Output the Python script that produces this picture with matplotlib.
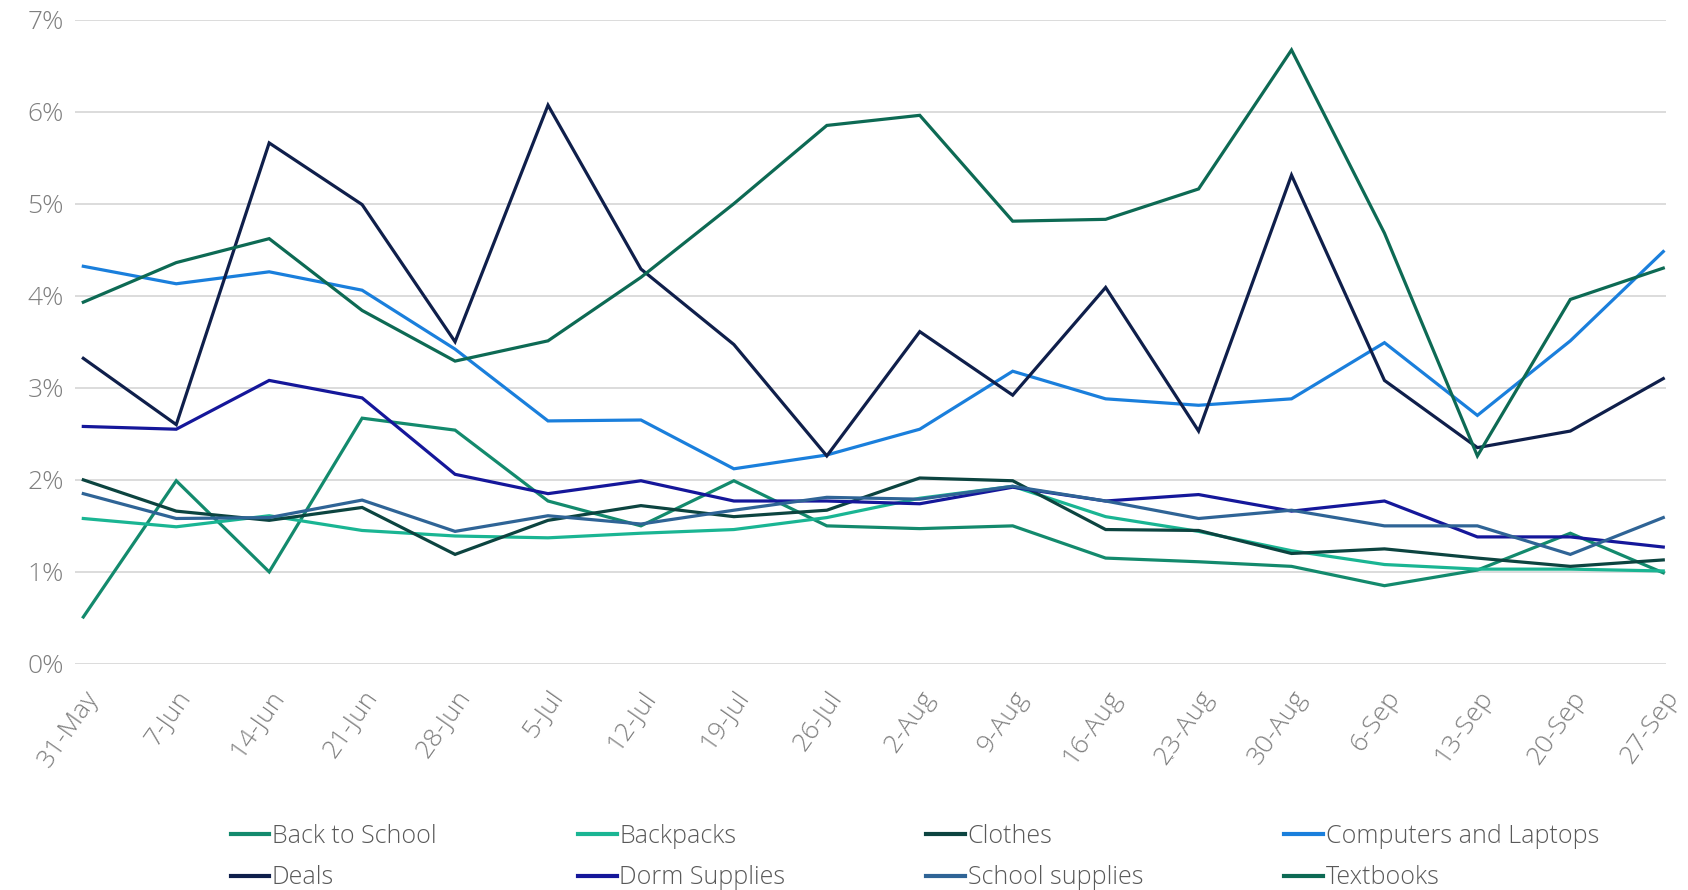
import numpy as np
import matplotlib
matplotlib.use("Agg")
import matplotlib.pyplot as plt
from matplotlib.ticker import FuncFormatter

weeks = ["31-May", "7-Jun", "14-Jun", "21-Jun", "28-Jun", "5-Jul", "12-Jul", "19-Jul",
         "26-Jul", "2-Aug", "9-Aug", "16-Aug", "23-Aug", "30-Aug", "6-Sep", "13-Sep",
         "20-Sep", "27-Sep"]

# share of searches, in %
back_to_school = [0.51, 1.99, 1.00, 2.67, 2.54, 1.77, 1.50, 1.99, 1.50, 1.47, 1.50, 1.15,
                  1.11, 1.06, 0.85, 1.02, 1.42, 0.99]
backpacks = [1.58, 1.49, 1.61, 1.45, 1.39, 1.37, 1.42, 1.46, 1.59, 1.80, 1.93, 1.60,
             1.44, 1.23, 1.08, 1.03, 1.03, 1.01]
clothes = [2.00, 1.66, 1.56, 1.70, 1.19, 1.56, 1.72, 1.60, 1.67, 2.02, 1.99, 1.46,
           1.45, 1.20, 1.25, 1.15, 1.06, 1.13]
computers = [4.32, 4.13, 4.26, 4.06, 3.42, 2.64, 2.65, 2.12, 2.27, 2.55, 3.18, 2.88,
             2.81, 2.88, 3.49, 2.70, 3.51, 4.48]
deals = [3.32, 2.60, 5.66, 4.99, 3.50, 6.07, 4.29, 3.47, 2.26, 3.61, 2.92, 4.09,
         2.53, 5.31, 3.08, 2.35, 2.53, 3.10]
dorm_supplies = [2.58, 2.55, 3.08, 2.89, 2.06, 1.85, 1.99, 1.77, 1.77, 1.74, 1.92, 1.77,
                 1.84, 1.66, 1.77, 1.38, 1.38, 1.27]
school_supplies = [1.85, 1.58, 1.59, 1.78, 1.44, 1.61, 1.52, 1.67, 1.81, 1.79, 1.93, 1.77,
                   1.58, 1.67, 1.50, 1.50, 1.19, 1.59]
textbooks = [3.93, 4.36, 4.62, 3.84, 3.29, 3.51, 4.20, 5.00, 5.85, 5.96, 4.81, 4.83,
             5.16, 6.67, 4.68, 2.26, 3.96, 4.30]

names = ["Back to School", "Backpacks", "Clothes", "Computers and Laptops",
         "Deals", "Dorm Supplies", "School supplies", "Textbooks"]
series = [back_to_school, backpacks, clothes, computers, deals, dorm_supplies,
          school_supplies, textbooks]
colors = ["#138a6d", "#1ab593", "#0c4440", "#1a7fdc",
          "#0f1f4b", "#15179a", "#2f6496", "#0d6a54"]

plt.rcParams["font.family"] = ["Open Sans", "DejaVu Sans"]
plt.rcParams["font.weight"] = "light"

fig = plt.figure(figsize=(16.88, 8.9), dpi=100)
ax = fig.add_axes([0.0444, 0.254, 0.9426, 0.724])

x = np.arange(len(weeks))
handles = {}
for name, vals, c in zip(names, series, colors):
    h, = ax.plot(x, vals, color=c, lw=2.3, label=name, solid_joinstyle="miter")
    handles[name] = h

ax.set_ylim(0, 7)
ax.set_xlim(-0.09, len(weeks) - 1 + 0.03)
ax.set_yticks(range(0, 8))
ax.yaxis.set_major_formatter(FuncFormatter(lambda v, p: "%d%%" % v))
ax.set_xticks(x)
ax.set_xticklabels(weeks, rotation=55, ha="right", rotation_mode="anchor")
ax.grid(axis="y", color="#d9d9d9", lw=1.3)
ax.set_axisbelow(True)
for s in ax.spines.values():
    s.set_visible(False)
ax.tick_params(axis="both", length=0, labelsize=19, colors="#7f7f7f", pad=8)
ax.tick_params(axis="x", pad=16)

# legend filled column-wise, so reorder to read row-wise
order = [0, 4, 1, 5, 2, 6, 3, 7]
leg = fig.legend([handles[names[i]] for i in order], [names[i] for i in order],
                 ncol=4, loc="center", bbox_to_anchor=(0.542, 0.037), frameon=False,
                 fontsize=18, handlelength=1.55, handletextpad=0.1,
                 columnspacing=5.65, labelspacing=0.66)
for t in leg.get_texts():
    t.set_color("#595959")
for l in leg.get_lines():
    l.set_linewidth(3)

fig.text(0.692, 0.138, "ˇ", fontsize=9, color="#999999")

fig.savefig("out.png", dpi=100)
